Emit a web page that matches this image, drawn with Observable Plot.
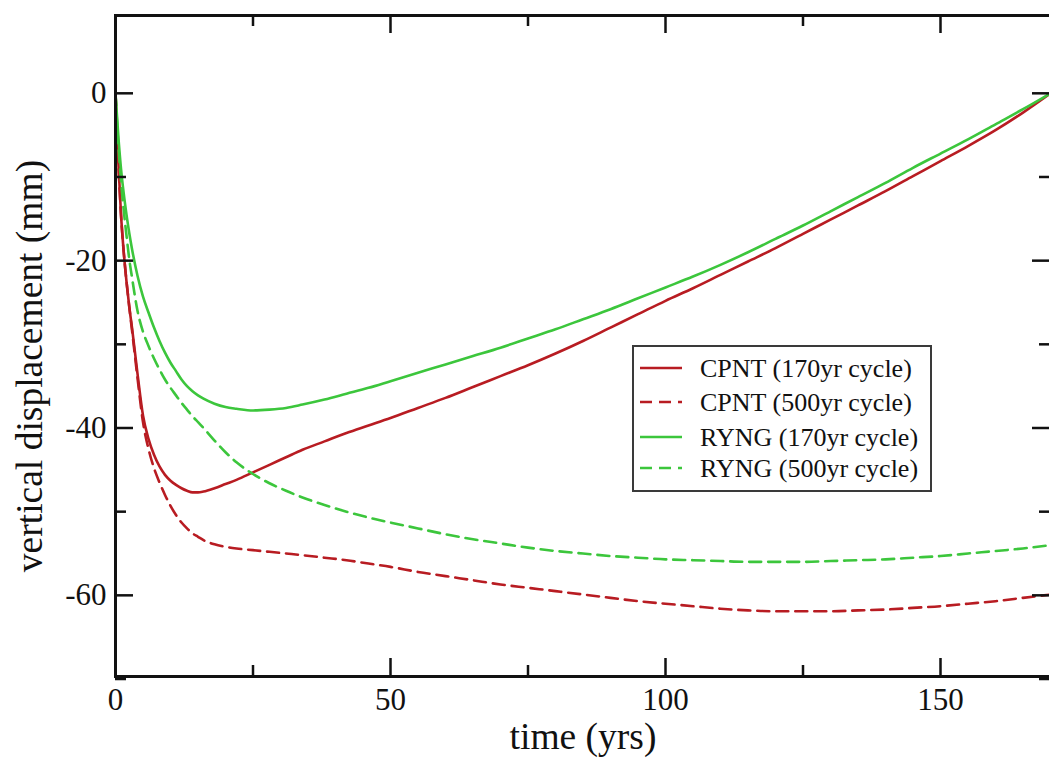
<!DOCTYPE html>
<html>
<head>
<meta charset="utf-8">
<script src="https://cdn.jsdelivr.net/npm/d3@7"></script>
<script src="https://cdn.jsdelivr.net/npm/@observablehq/plot@0.6"></script>
<style>
  html, body { margin: 0; padding: 0; background: #fff; }
  #wrap { position: relative; width: 1049px; height: 758px; overflow: hidden; font-family: "Liberation Serif", serif; }
  #legend { position: absolute; left: 632px; top: 345px; width: 296px; height: 143px; border: 2px solid #3a3a3a; background: #fff; }
  svg text { font-family: "Liberation Serif", serif; }
</style>
</head>
<body>
<div id="wrap"><div id="legend"></div></div>
<script>
// ---- data ----
const times = [0,0.5,1,1.5,2,2.5,3,4,5,6,7,8,9,10,11,12,13,14,15,16,18,20,22,25,28,31,34,38,42,46,50,55,60,65,70,75,80,85,90,95,100,105,110,115,120,125,130,135,140,145,150,155,160,165,170];

const cpnt170 = [0,-8,-14.5,-19,-22.5,-25.5,-28,-33.5,-38.5,-41.3,-43.2,-44.6,-45.6,-46.3,-46.8,-47.2,-47.5,-47.7,-47.7,-47.6,-47.2,-46.7,-46.2,-45.3,-44.4,-43.5,-42.6,-41.6,-40.6,-39.7,-38.8,-37.6,-36.4,-35.1,-33.8,-32.5,-31.1,-29.6,-28.0,-26.4,-24.8,-23.3,-21.7,-20.1,-18.5,-16.8,-15.1,-13.4,-11.7,-9.9,-8.1,-6.3,-4.4,-2.3,0];

const cpnt500 = [0,-8,-14.5,-19,-22.5,-25.5,-28.3,-34,-39.3,-42.5,-44.8,-46.5,-48,-49.3,-50.4,-51.3,-52,-52.6,-53,-53.4,-53.9,-54.2,-54.4,-54.6,-54.8,-55.0,-55.2,-55.5,-55.8,-56.2,-56.6,-57.2,-57.7,-58.2,-58.7,-59.1,-59.5,-59.9,-60.3,-60.7,-61.0,-61.3,-61.6,-61.8,-61.9,-61.9,-61.9,-61.8,-61.7,-61.5,-61.3,-61.0,-60.7,-60.3,-59.9];

const ryng170 = [0,-5,-9,-12,-14.5,-16.7,-18.6,-21.8,-24.3,-26.2,-28,-29.6,-31,-32.2,-33.2,-34.2,-35,-35.6,-36.1,-36.5,-37.1,-37.5,-37.7,-37.9,-37.8,-37.6,-37.2,-36.6,-35.9,-35.2,-34.4,-33.4,-32.4,-31.4,-30.4,-29.3,-28.2,-27.0,-25.8,-24.5,-23.2,-21.9,-20.5,-19.0,-17.4,-15.8,-14.1,-12.4,-10.7,-8.9,-7.2,-5.5,-3.7,-1.9,0];

const ryng500 = [0,-6,-10.5,-14,-17,-19.8,-22,-26,-28.5,-30.2,-31.7,-33,-34.2,-35.2,-36.1,-37,-37.8,-38.6,-39.3,-40,-41.5,-42.9,-44.1,-45.5,-46.6,-47.5,-48.3,-49.2,-50.0,-50.7,-51.3,-52.0,-52.7,-53.3,-53.8,-54.3,-54.7,-55.0,-55.3,-55.5,-55.7,-55.8,-55.9,-56.0,-56.0,-56.0,-55.9,-55.8,-55.7,-55.5,-55.3,-55.0,-54.7,-54.4,-54.0];

const seriesNames = ["CPNT (170yr cycle)", "CPNT (500yr cycle)", "RYNG (170yr cycle)", "RYNG (500yr cycle)"];
const seriesValues = [cpnt170, cpnt500, ryng170, ryng500];
const seriesColors = ["#b81c22", "#b81c22", "#3cc63c", "#3cc63c"];
const seriesDashed = [false, true, false, true];

const xMajor = [0, 50, 100, 150];
const xMinor = [25, 75, 125];
const yMajor = [-60, -40, -20, 0];
const yMinor = [-70, -50, -30, -10];

const xLabel = "time (yrs)";
const yLabel = "vertical displacement (mm)";

// ---- layout ----
const W = 1049, H = 758;
const mL = 115, mR = -1, mT = 15, mB = 82;
const plotW = W - mL - mR, plotH = H - mT - mB;
const FONT = "Liberation Serif";
const DASH = "12,7";

const marks = [];
seriesValues.forEach((vals, i) => {
  const rows = times.map((t, j) => ({t, v: vals[j]}));
  marks.push(Plot.line(rows, {
    x: "t", y: "v", stroke: seriesColors[i], strokeWidth: 2.6,
    strokeDasharray: seriesDashed[i] ? DASH : null, curve: "monotone-x"
  }));
});

const tickStyle = {stroke: "#111", strokeWidth: 2.5};
// inward ticks on all four sides
marks.push(Plot.tickX(xMajor, {x: d => d, insetTop: plotH - 18, ...tickStyle}));
marks.push(Plot.tickX(xMajor, {x: d => d, insetBottom: plotH - 18, ...tickStyle}));
marks.push(Plot.tickX(xMinor, {x: d => d, insetTop: plotH - 11, ...tickStyle}));
marks.push(Plot.tickX(xMinor, {x: d => d, insetBottom: plotH - 11, ...tickStyle}));
marks.push(Plot.tickY(yMajor, {y: d => d, insetRight: plotW - 18, ...tickStyle}));
marks.push(Plot.tickY(yMajor, {y: d => d, insetLeft: plotW - 18, ...tickStyle}));
marks.push(Plot.tickY(yMinor, {y: d => d, insetRight: plotW - 11, ...tickStyle}));
marks.push(Plot.tickY(yMinor, {y: d => d, insetLeft: plotW - 11, ...tickStyle}));

marks.push(Plot.axisX({ticks: xMajor, tickSize: 0, tickPadding: 11, fontSize: 31, fontFamily: FONT, tickFormat: d => String(d), label: null, fill: "#111"}));
marks.push(Plot.axisY({ticks: yMajor, tickSize: 0, tickPadding: 9, fontSize: 31, fontFamily: FONT, tickFormat: d => String(d), label: null, fill: "#111"}));

marks.push(Plot.frame({stroke: "#111", strokeWidth: 3}));

marks.push(Plot.text([xLabel], {text: d => d, frameAnchor: "bottom", dy: 60, lineAnchor: "middle", fontSize: 37.5, fontFamily: FONT, fill: "#111"}));
marks.push(Plot.text([yLabel], {text: d => d, frameAnchor: "left", rotate: -90, dx: -86, dy: 20, lineAnchor: "middle", textAnchor: "middle", fontSize: 37.5, fontFamily: FONT, fill: "#111"}));

const chart = Plot.plot({
  width: W, height: H,
  marginLeft: mL, marginRight: mR, marginTop: mT, marginBottom: mB,
  x: {domain: [0, 170], axis: null},
  y: {domain: [-69.7, 9.3], axis: null},
  style: {fontFamily: FONT, background: "#fff", overflow: "visible"},
  marks
});
const wrap = document.getElementById("wrap");
wrap.insertBefore(chart, wrap.firstChild);

// ---- legend ----
const lg = d3.select("#legend").append("svg").attr("width", 296).attr("height", 143);
const rowY = [21, 55, 90, 121];
seriesNames.forEach((name, i) => {
  lg.append("line").attr("x1", 6).attr("x2", 48).attr("y1", rowY[i]).attr("y2", rowY[i])
    .attr("stroke", seriesColors[i]).attr("stroke-width", 2.6)
    .attr("stroke-dasharray", seriesDashed[i] ? DASH : null);
  lg.append("text").attr("x", 66).attr("y", rowY[i]).attr("dy", "0.35em")
    .attr("font-size", 26).attr("font-family", FONT).attr("fill", "#111").text(name);
});
</script>
</body>
</html>
